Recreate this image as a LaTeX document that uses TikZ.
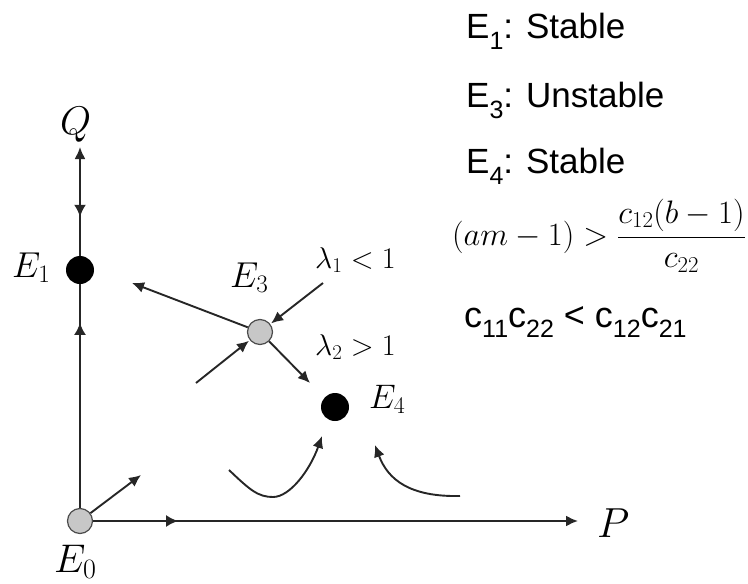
\RequirePackage{fix-cm}
\documentclass[tikz,border=0pt]{standalone}
\usepackage{fontspec}
\usepackage{graphicx}
\usetikzlibrary{arrows.meta,decorations.markings}
\newfontfamily\arl{Liberation Sans}
\newcommand{\rsub}[2][11pt]{\raisebox{-#1}{\fontsize{25}{25}\selectfont #2}}
\begin{document}
\begin{tikzpicture}[x=1pt,y=-1pt,
  tip/.style={-{Latex[length=12pt,width=11pt]}},
  ln/.style={line width=1.9pt,draw=black!85},
  graypt/.style={circle,draw=black!70,line width=1.2pt,fill=black!22,minimum size=25pt,inner sep=0pt},
  blackpt/.style={circle,fill=black,minimum size=28pt,inner sep=0pt},
  lbl/.style={anchor=base west,inner sep=0pt,font=\fontsize{36}{40}\selectfont},
  lam/.style={anchor=base west,inner sep=0pt,font=\fontsize{30}{33}\selectfont},
  rtxt/.style={font=\arl\fontsize{35}{38}\selectfont,anchor=base west,inner sep=0pt},
  midup/.style={postaction={decorate},decoration={markings,mark=at position #1 with {\arrow{Latex[length=12pt,width=12pt]}}}},
  middown/.style={postaction={decorate},decoration={markings,mark=at position #1 with {\arrowreversed{Latex[length=12pt,width=12pt]}}}}
]
\useasboundingbox (0,0) rectangle (748,584);

% points
\node[graypt] (E0) at (80,521) {};
\node[blackpt] (E1) at (80,270) {};
\node[graypt] (E3) at (260,332) {};
\node[blackpt] (E4) at (335,407) {};

% axis end points
\coordinate (qtip) at (80,147);
\coordinate (ptip) at (578,521);

% axes
\draw[ln,tip,midup=85pt] (E0) -- (ptip);
\draw[ln,midup=185pt] (E0) -- (E1);
\draw[ln,tip,middown=39pt] (E1) -- (qtip);

% labels
\node[lbl,font=\fontsize{40}{44}\selectfont] (lQ) at (60,134) {$Q$};
\node[lbl,font=\fontsize{42}{46}\selectfont] (lP) at (597,537) {$P$};
\node[lbl,font=\fontsize{40}{44}\selectfont] (lE0) at (54,572) {$E_0$};
\node[lbl] (lE1) at (12,277) {$E_1$};
\node[lbl] (lE3) at (230,287) {$E_3$};
\node[lbl,font=\fontsize{34}{38}\selectfont] (lE4) at (369,408) {$E_4$};
\node[lam] (l1) at (315,268) {$\lambda_1 < 1$};
\node[lam] (l2) at (315,355) {$\lambda_2 > 1$};

% free ends
\coordinate (a0) at (141,475);
\coordinate (a1) at (132,283);
\coordinate (a2) at (323,283);
\coordinate (a3) at (196,383);
\coordinate (a4) at (310,383);
\coordinate (c1s) at (229,470);
\coordinate (c1m) at (273,497);
\coordinate (c1e) at (322,436);
\coordinate (c2s) at (460,496);
\coordinate (c2e) at (375,445);

% trajectories
\draw[ln,tip] (E0) -- (a0);
\draw[ln,tip] (E3) -- (a1);
\draw[ln,tip,shorten >=1pt] (a2) -- (E3);
\draw[ln,tip,shorten >=1pt] (a3) -- (E3);
\draw[ln,tip] (E3) -- (a4);
\draw[ln,tip] (c1s) .. controls (250,490) and (258,497) .. (c1m) .. controls (290,497) and (310,470) .. (c1e);
\draw[ln,tip] (c2s) .. controls (410,497) and (388,480) .. (c2e);

% right side texts
\node[rtxt] (t1) at (466,38) {E\rsub{1}: Stable};
\node[rtxt] (t3) at (466,107) {E\rsub{3}: Unstable};
\node[rtxt] (t4) at (466,173) {E\rsub{4}: Stable};
\node[anchor=base west,inner sep=0pt,font=\fontsize{32.5}{36}\selectfont] (f) at (452,245)
  {$\displaystyle (am-1) > \frac{c_{12}(b-1)}{c_{22}}$};
\node[rtxt,font=\arl\fontsize{36}{39}\selectfont] (t5) at (464,327) {c\rsub[10pt]{11}c\rsub[10pt]{22} < c\rsub[10pt]{12}c\rsub[10pt]{21}};
\end{tikzpicture}
\end{document}
